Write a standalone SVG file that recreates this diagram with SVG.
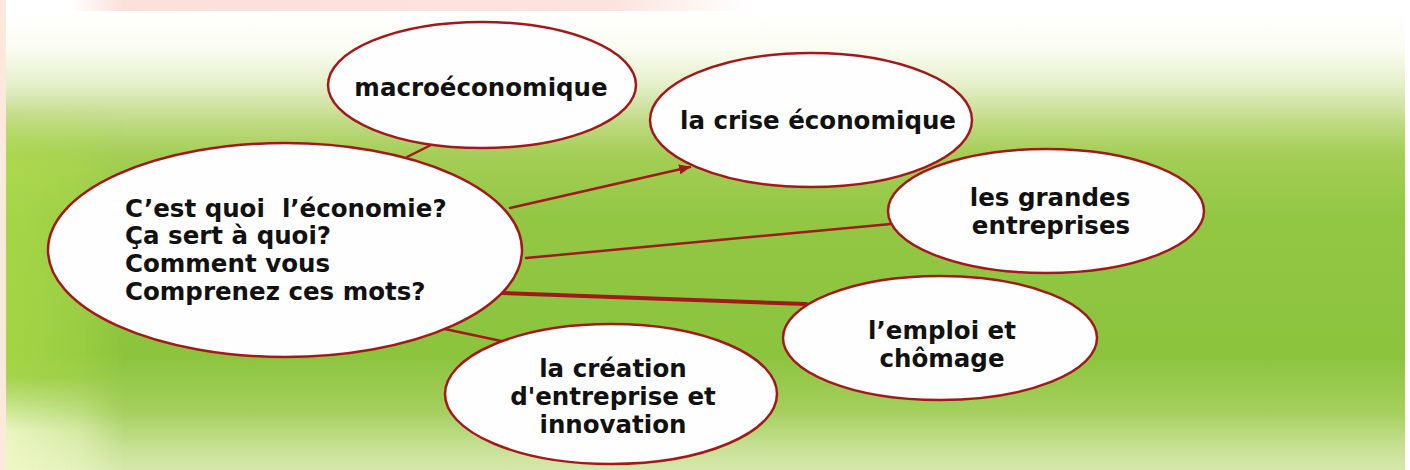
<svg xmlns="http://www.w3.org/2000/svg" width="1410" height="470" viewBox="0 0 1410 470">
  <defs>
    <linearGradient id="bgV" x1="0" y1="0" x2="0" y2="1">
      <stop offset="0" stop-color="#ffffff"/>
      <stop offset="0.08" stop-color="#fafcf2"/>
      <stop offset="0.16" stop-color="#e4efc8"/>
      <stop offset="0.24" stop-color="#c0da84"/>
      <stop offset="0.31" stop-color="#a4ce56"/>
      <stop offset="0.45" stop-color="#92c744"/>
      <stop offset="0.75" stop-color="#8cc43e"/>
      <stop offset="0.87" stop-color="#a4cf5c"/>
      <stop offset="0.95" stop-color="#c6e094"/>
      <stop offset="1" stop-color="#d6e9ac"/>
    </linearGradient>
    <linearGradient id="fadeX" x1="0" y1="0" x2="1" y2="0">
      <stop offset="0" stop-color="#ffffff" stop-opacity="1"/>
      <stop offset="0.6" stop-color="#ffffff" stop-opacity="0.6"/>
      <stop offset="1" stop-color="#ffffff" stop-opacity="0"/>
    </linearGradient>
    <linearGradient id="fadeY" x1="0" y1="0" x2="0" y2="1">
      <stop offset="0" stop-color="#ffffff" stop-opacity="0"/>
      <stop offset="0.22" stop-color="#ffffff" stop-opacity="0"/>
      <stop offset="0.36" stop-color="#ffffff" stop-opacity="1"/>
      <stop offset="0.78" stop-color="#ffffff" stop-opacity="1"/>
      <stop offset="0.9" stop-color="#ffffff" stop-opacity="0"/>
    </linearGradient>
    <linearGradient id="paleY" x1="0" y1="0" x2="0" y2="1">
      <stop offset="0" stop-color="#ffffff" stop-opacity="0"/>
      <stop offset="0.8" stop-color="#ffffff" stop-opacity="0"/>
      <stop offset="0.92" stop-color="#ffffff" stop-opacity="1"/>
      <stop offset="1" stop-color="#ffffff" stop-opacity="1"/>
    </linearGradient>
    <mask id="mX" maskContentUnits="userSpaceOnUse">
      <rect x="6" y="0" width="120" height="470" fill="url(#fadeX)"/>
    </mask>
    <mask id="mY" maskContentUnits="userSpaceOnUse">
      <rect x="0" y="0" width="1410" height="470" fill="url(#fadeY)"/>
    </mask>
    <mask id="mPale" maskContentUnits="userSpaceOnUse">
      <rect x="0" y="0" width="1410" height="470" fill="url(#paleY)"/>
    </mask>
    <linearGradient id="pinkBand" x1="0" y1="0" x2="1" y2="0">
      <stop offset="0" stop-color="#fbe0da" stop-opacity="0"/>
      <stop offset="0.08" stop-color="#fbe0da"/>
      <stop offset="0.8" stop-color="#fce4de"/>
      <stop offset="1" stop-color="#fce4de" stop-opacity="0"/>
    </linearGradient>
    <marker id="arrow" viewBox="0 0 12 10" refX="11" refY="5" markerWidth="12" markerHeight="10" markerUnits="userSpaceOnUse" orient="auto">
      <path d="M0,0 L12,5 L0,10 z" fill="#a3191b"/>
    </marker>
  </defs>
  <style>
    .bubble { fill: #fefefe; stroke: #a3191b; stroke-width: 2.5; }
    .link { stroke: #a3191b; stroke-width: 2.5; fill: none; stroke-linecap: round; }
    .thick { stroke-width: 4; }
    .lbl { font-family: "DejaVu Sans", Verdana, sans-serif; font-weight: bold; font-size: 24.5px; fill: #111111; }
    .c { text-anchor: middle; }
  </style>

  <!-- background -->
  <rect x="0" y="0" width="1410" height="470" fill="#ffffff"/>
  <rect x="6" y="12" width="1399" height="458" fill="url(#bgV)"/>
  <g mask="url(#mX)">
    <rect x="6" y="12" width="120" height="458" fill="#b6e24c" opacity="0.55" mask="url(#mY)"/>
    <rect x="6" y="12" width="120" height="458" fill="#f2fbcc" opacity="0.85" mask="url(#mPale)"/>
  </g>
  <rect x="0" y="0" width="6" height="470" fill="#fde8dc"/>
  <rect x="70" y="0" width="680" height="11" fill="url(#pinkBand)"/>

  <!-- connectors -->
  <g id="connectors">
    <line class="link" x1="407" y1="157" x2="431" y2="145"/>
    <line class="link" x1="510" y1="208" x2="690" y2="167" marker-end="url(#arrow)"/>
    <line class="link" x1="526" y1="258" x2="891" y2="224"/>
    <line class="link thick" x1="502" y1="293" x2="806" y2="304"/>
    <line class="link" x1="440" y1="328" x2="506" y2="342"/>
  </g>

  <g id="node-macro">
    <ellipse class="bubble" cx="482" cy="85" rx="154" ry="63"/>
    <text class="lbl c" x="481" y="96">macroéconomique</text>
  </g>

  <g id="node-crise">
    <ellipse class="bubble" cx="811" cy="120" rx="161" ry="67"/>
    <text class="lbl c" x="818" y="129">la crise économique</text>
  </g>

  <g id="node-central">
    <ellipse class="bubble" cx="285" cy="250" rx="237" ry="107"/>
    <text class="lbl" x="125" y="217" xml:space="preserve">C’est quoi  l’économie?</text>
    <text class="lbl" x="125" y="244">Ça sert à quoi?</text>
    <text class="lbl" x="125" y="272">Comment vous</text>
    <text class="lbl" x="125" y="300">Comprenez ces mots?</text>
  </g>

  <g id="node-grandes">
    <ellipse class="bubble" cx="1046" cy="211" rx="158" ry="62"/>
    <text class="lbl c" x="1050" y="206">les grandes</text>
    <text class="lbl c" x="1051" y="234">entreprises</text>
  </g>

  <g id="node-emploi">
    <ellipse class="bubble" cx="940" cy="338" rx="157" ry="62"/>
    <text class="lbl c" x="942" y="339">l’emploi et</text>
    <text class="lbl c" x="942" y="367">chômage</text>
  </g>

  <g id="node-creation">
    <ellipse class="bubble" cx="611" cy="394" rx="166" ry="70"/>
    <text class="lbl c" x="613" y="377">la création</text>
    <text class="lbl c" x="613" y="405">d'entreprise et</text>
    <text class="lbl c" x="613" y="433">innovation</text>
  </g>
</svg>
